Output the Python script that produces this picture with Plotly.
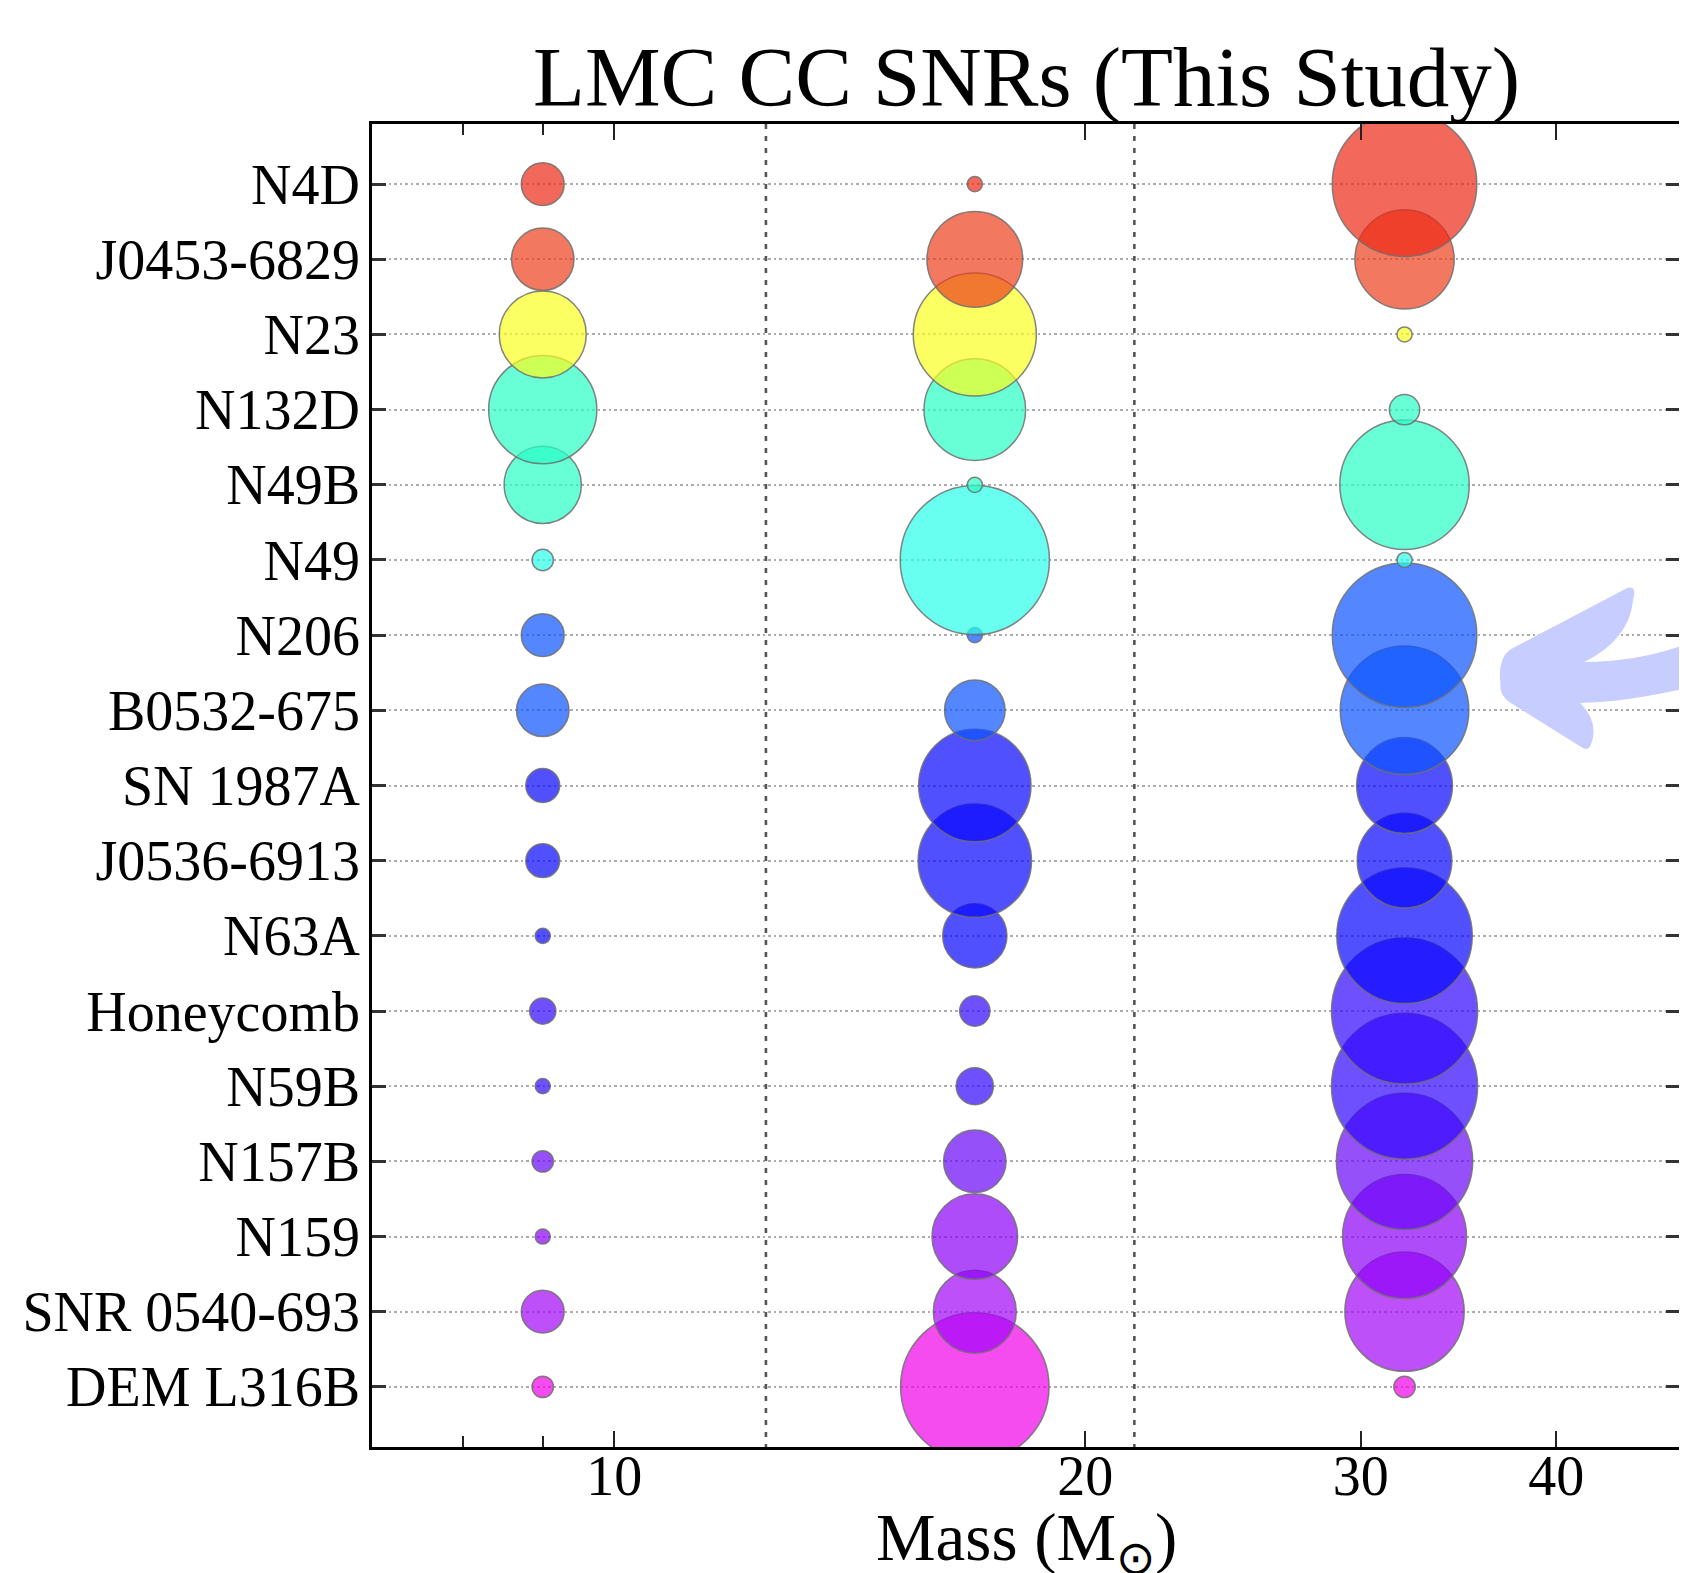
import math
import plotly.graph_objects as go

# ---------------- data ----------------
snr_names = ["N4D", "J0453-6829", "N23", "N132D", "N49B", "N49", "N206",
             "B0532-675", "SN 1987A", "J0536-6913", "N63A", "Honeycomb",
             "N59B", "N157B", "N159", "SNR 0540-693", "DEM L316B"]
mass_bins = [9, 17, 32]          # representative mass of each bin (Msun)
p_low = [0.08, 0.17, 0.33, 0.51, 0.26, 0.02, 0.08, 0.12, 0.05, 0.05, 0.01,
         0.03, 0.01, 0.02, 0.01, 0.08, 0.02]
p_mid = [0.01, 0.40, 0.66, 0.45, 0.01, 0.97, 0.01, 0.16, 0.55, 0.56, 0.18,
         0.04, 0.06, 0.17, 0.32, 0.30, 0.96]
p_high = [0.91, 0.43, 0.01, 0.04, 0.73, 0.01, 0.91, 0.72, 0.40, 0.39, 0.80,
          0.93, 0.93, 0.81, 0.67, 0.62, 0.02]
row_colors = [(236, 40, 22), (236, 62, 28), (250, 255, 30), (40, 255, 198),
              (40, 255, 198), (40, 255, 234), (12, 84, 255), (12, 84, 255),
              (5, 5, 255), (5, 5, 255), (5, 5, 255), (48, 5, 255),
              (48, 5, 255), (105, 5, 248), (141, 0, 248), (162, 5, 248),
              (241, 0, 233)]
bin_edges = [12.5, 21.5]
x_major_ticks = [10, 20, 30, 40]
x_minor_ticks = [8, 9]
x_range = [7, 48]

# ---------------- style ----------------
# the page body adds an 8px offset, so the figure is 8px smaller than the window
OFF = 8
W, H = 1687 - OFF, 1573 - OFF
ML, MR, MT, MB = 364, 4, 116, 126
SERIF = "Liberation Serif, Times New Roman, serif"
ALPHA = 0.7
SIZE_K = 151.5   # px diameter for probability 1 (area ~ probability)

fig = go.Figure()

# bin boundary lines
for e in bin_edges:
    fig.add_trace(go.Scatter(
        x=[e, e], y=[-0.8, len(snr_names) - 0.2], mode="lines",
        line=dict(color="#555555", width=2.6, dash="5px,7px"),
        hoverinfo="skip", showlegend=False))

probs = [p_low, p_mid, p_high]
xs, ys, sizes, cols = [], [], [], []
# bottom rows first so that upper rows are drawn on top
for i in reversed(range(len(snr_names))):
    for j, m in enumerate(mass_bins):
        p = probs[j][i]
        xs.append(m)
        ys.append(i)
        sizes.append(SIZE_K * math.sqrt(p))
        r, g, b = row_colors[i]
        cols.append(f"rgba({r},{g},{b},{ALPHA})")

fig.add_trace(go.Scatter(
    x=xs, y=ys, mode="markers",
    marker=dict(size=sizes, sizemode="diameter", color=cols, opacity=1,
                line=dict(color="rgba(110,110,110,0.85)", width=1.5)),
    showlegend=False, cliponaxis=True))

# decorative arrow pointing at N206 (screen-pixel geometry -> paper coords)
pw = W - ML - MR
ph = H - MT - MB


def px(x, y):
    x -= OFF
    y -= OFF
    return f"{(x - ML) / pw:.5f},{(H - MB - y) / ph:.5f}"


arrow_path = (
    f"M {px(1503, 684)} Q {px(1500, 660)} {px(1512, 650)} "
    f"L {px(1630, 588)} Q {px(1640, 585)} {px(1636, 600)} "
    f"Q {px(1632, 640)} {px(1587, 662)} Q {px(1640, 662)} {px(1690, 644)} "
    f"L {px(1690, 688)} Q {px(1630, 702)} {px(1583, 703)} "
    f"Q {px(1602, 722)} {px(1594, 744)} Q {px(1591, 752)} {px(1584, 747)} "
    f"L {px(1512, 702)} Q {px(1502, 695)} {px(1503, 684)} Z"
)

fig.update_layout(
    width=W, height=H,
    margin=dict(l=ML, r=MR, t=MT, b=MB, pad=0),
    paper_bgcolor="white", plot_bgcolor="white",
    font=dict(family=SERIF, color="black", size=56),
    showlegend=False,
    shapes=[dict(type="path", xref="paper", yref="paper", path=arrow_path,
                 fillcolor="rgb(200,205,255)", line=dict(width=0),
                 layer="above")],
    annotations=[
        dict(text="LMC CC SNRs (This Study)", xref="paper", yref="paper",
             x=0.5, y=1, xanchor="center", yanchor="bottom", yshift=-3,
             showarrow=False, font=dict(family=SERIF, size=85, color="black")),
        dict(text="Mass (M<sub>⊙</sub>)", xref="paper", yref="paper",
             x=0.5, y=0, xanchor="center", yanchor="top", yshift=-51,
             showarrow=False, font=dict(family=SERIF, size=67, color="black")),
    ],
)

fig.update_xaxes(
    type="log", range=[math.log10(x_range[0]), math.log10(x_range[1])],
    tickmode="array", tickvals=x_major_ticks,
    ticktext=[str(v) for v in x_major_ticks],
    ticks="inside", ticklen=16, tickwidth=2, tickcolor="#222",
    minor=dict(tickmode="array", tickvals=x_minor_ticks, ticks="inside",
               ticklen=11, tickwidth=2, tickcolor="#222", showgrid=False),
    showgrid=False, zeroline=False,
    showline=True, linecolor="black", linewidth=2.6, mirror="ticks",
    tickfont=dict(family=SERIF, size=56, color="black"),
    ticklabelstandoff=-22,
)

fig.update_yaxes(
    tickmode="array", tickvals=list(range(len(snr_names))), ticktext=snr_names,
    range=[len(snr_names) - 0.2, -0.8],
    ticks="inside", ticklen=14, tickwidth=2.5, tickcolor="#333",
    showgrid=True, gridcolor="#acacac", gridwidth=1.8, griddash="2.5px,3px",
    zeroline=False,
    showline=True, linecolor="black", linewidth=2.6, mirror="ticks",
    tickfont=dict(family=SERIF, size=56, color="black"),
    ticklabelstandoff=-2,
)

fig.write_html("out.html")
